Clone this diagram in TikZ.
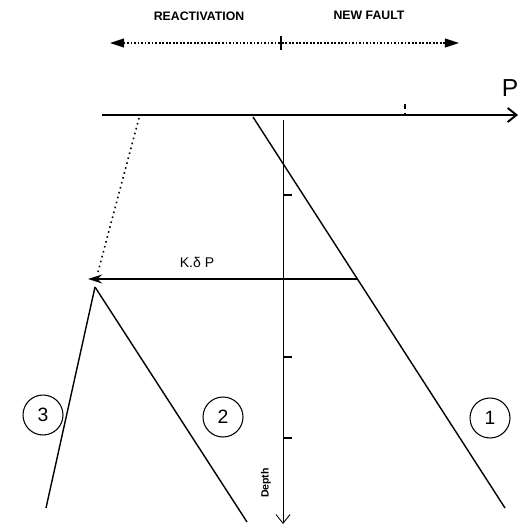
\documentclass[tikz,border=0pt]{standalone}
\usepackage{fontspec}
\setmainfont{Liberation Sans}
\usetikzlibrary{arrows.meta}

\begin{document}
\begin{tikzpicture}[
    x=0.02cm, y=-0.02cm,
    axisline/.style={line width=0.5pt, -{Straight Barb[length=5pt, width=8pt]}},
    faultline/.style={line width=0.8pt},
    ticksmall/.style={line width=0.6pt},
    rangearrow/.style={densely dotted, line width=1pt, {Triangle[length=8pt, width=5pt]}-{Triangle[length=8pt, width=5pt]}},
    pushline/.style={line width=1.4pt, -{Stealth[length=8pt, width=5pt]}},
    toplabel/.style={font=\fontsize{7}{8}\selectfont\bfseries},
    numcircle/.style={circle, draw, line width=0.6pt, minimum size=0.8cm, inner sep=0pt, font=\fontsize{11}{12}\selectfont}
]
% frame of the picture
\fill[white] (0,0) rectangle (518,530);

% Range arrow on top
\coordinate (rangeL) at (110,43);
\coordinate (rangeR) at (459,43);
\coordinate (rangeT) at (281,36);
\coordinate (rangeB) at (281,50);
\draw[rangearrow] (rangeL) -- (rangeR);
\draw[ticksmall] (rangeT) -- (rangeB);
\node[toplabel] (react) at (199,16) {REACTIVATION};
\node[toplabel] (newfault) at (369,15) {NEW FAULT};

% Axes
\coordinate (pstart) at (102,115);
\coordinate (pend) at (518,115);
\coordinate (dstart) at (283,120);
\coordinate (dend) at (283,524);
\draw[axisline, line width=1.1pt] (pstart) -- (pend);
\draw[axisline] (dstart) -- (dend);
\node[font=\fontsize{14}{15}\selectfont] (plabel) at (510,88) {P};
\node[rotate=90, font=\fontsize{6}{7}\selectfont\bfseries] (depth) at (266,483) {Depth};

% Ticks
\draw[ticksmall, densely dashed] (405,104) -- (405,113);
\foreach \ty in {195, 357, 438}
    \draw[ticksmall] (283,\ty) -- (292,\ty);

% 1. new fault
\coordinate (f1top) at (253,117);
\coordinate (f1bot) at (505,508);
\coordinate (f1mid) at (357,279);
\draw[faultline] (f1top) -- (f1bot);

% 2./3. reactivated faults
\coordinate (apex) at (95,287);
\coordinate (f2bot) at (247,522);
\coordinate (f3bot) at (46,508);
\coordinate (oldtop) at (139,118);
\coordinate (oldbot) at (98,272);
\draw[faultline] (apex) -- (f2bot);
\draw[faultline] (apex) -- (f3bot);
\draw[line width=0.9pt, dotted] (oldtop) -- (oldbot);

% K dP arrow
\coordinate (pushend) at (88,279);
\draw[pushline] (f1mid) -- (pushend);
\node[font=\fontsize{8}{9}\selectfont] (kdp) at (197,262) {K.δ P};

% Fault numbers
\node[numcircle] (n3) at (43,415) {3};
\node[numcircle] (n2) at (223,417) {2};
\node[numcircle] (n1) at (490,418) {1};
\end{tikzpicture}
\end{document}
